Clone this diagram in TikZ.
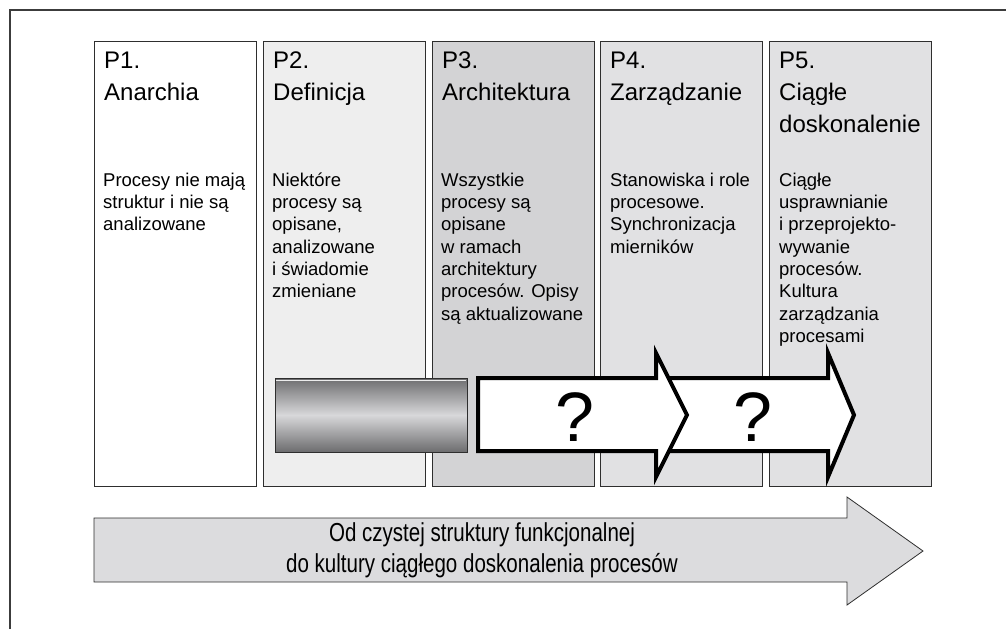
\documentclass[tikz,border=0pt]{standalone}
\usepackage{fontspec}
\setmainfont{Liberation Sans}
\newfontfamily\condfont[FakeStretch=0.79]{Liberation Sans}
\definecolor{boxline}{HTML}{2E2E2E}
\definecolor{frameline}{HTML}{3C3C3C}
\definecolor{ptwo}{HTML}{EEEEEE}
\definecolor{pthree}{HTML}{D3D3D5}
\definecolor{pfour}{HTML}{E1E1E3}
\definecolor{pfive}{HTML}{E1E1E3}
\definecolor{arrowfill}{HTML}{DCDCDE}
\definecolor{bardark}{HTML}{6C6C6E}
\definecolor{barlight}{HTML}{D8D8DA}
\begin{document}
\begin{tikzpicture}[x=1pt,y=-1pt,
  phase/.style={draw=boxline, line width=0.9pt, anchor=north west, minimum width=162pt, minimum height=445pt, inner sep=0pt, outer sep=0pt},
  titletext/.style={anchor=north west, inner sep=0pt, align=left, font=\fontsize{24}{32}\selectfont},
  bodytext/.style={anchor=north west, inner sep=0pt, align=left, font=\fontsize{18.5}{22.3}\selectfont},
  bigarrow/.style={draw=black, line width=4pt, fill=white, line join=miter},
  qmark/.style={anchor=base, inner sep=0pt, font=\fontsize{70}{70}\selectfont},
  basearrow/.style={draw=boxline, line width=0.8pt, fill=arrowfill},
  steptext/.style={align=center, inner sep=0pt, font=\condfont\fontsize{26}{31}\selectfont}
]
\useasboundingbox (0,0) rectangle (1006,629);
% outer frame (only top and left visible)
\draw[frameline, line width=1.3pt] (10,629) -- (10,10) -- (1006,10);

% phase boxes
\node[phase, fill=white] (b1) at (94,41) {};
\node[phase, fill=ptwo]  (b2) at (263,41) {};
\node[phase, fill=pthree](b3) at (432,41) {};
\node[phase, fill=pfour] (b4) at (600,41) {};
\node[phase, fill=pfive] (b5) at (769,41) {};

% titles
\node[titletext] (t1) at (104,45.6) {\strut P1.\\Anarchia};
\node[titletext] (t2) at (273,45.6) {\strut P2.\\Definicja};
\node[titletext] (t3) at (442,45.6) {\strut P3.\\Architektura};
\node[titletext] (t4) at (610,45.6) {\strut P4.\\Zarządzanie};
\node[titletext] (t5) at (779,45.6) {\strut P5.\\Ciągłe\\doskonalenie};

% descriptions
\node[bodytext] (d1) at (103,170.4) {\strut Procesy nie mają\\struktur i nie są\\analizowane};
\node[bodytext] (d2) at (272,170.4) {\strut Niektóre\\procesy są\\opisane,\\analizowane\\i świadomie\\zmieniane};
\node[bodytext] (d3) at (441,170.4) {\strut Wszystkie\\procesy są\\opisane\\w ramach\\architektury\\procesów. Opisy\\są aktualizowane};
\node[bodytext] (d4) at (610,170.4) {\strut Stanowiska i role\\procesowe.\\Synchronizacja\\mierników};
\node[bodytext] (d5) at (779,170.4) {\strut Ciągłe\\usprawnianie\\i przeprojekto-\\wywanie\\procesów.\\Kultura\\zarządzania\\procesami};

% gradient bar
\shade[top color=bardark, bottom color=bardark, middle color=barlight] (275,378) rectangle (467,452);
\draw[boxline, line width=0.8pt] (275,378) rectangle (467,452);
\draw[white!85!gray, line width=0.8pt] (276,380) -- (466,380);

% white arrows with question marks
\draw[bigarrow] (660,378) -- (828,378) -- (828,353) -- (854,415) -- (828,477) -- (828,451) -- (660,451) -- cycle;
\draw[bigarrow] (478,378) -- (656,378) -- (656,353) -- (687,415) -- (656,477) -- (656,451) -- (478,451) -- cycle;
\node[qmark] (q1) at (575,441) {?};
\node[qmark] (q2) at (753,441) {?};

% bottom arrow
\draw[basearrow] (94,518) -- (847,518) -- (847,497) -- (923,551) -- (847,605) -- (847,582) -- (94,582) -- cycle;
\node[steptext] (s) at (482,550) {Od czystej struktury funkcjonalnej\\do kultury ciągłego doskonalenia procesów};
\end{tikzpicture}
\end{document}
